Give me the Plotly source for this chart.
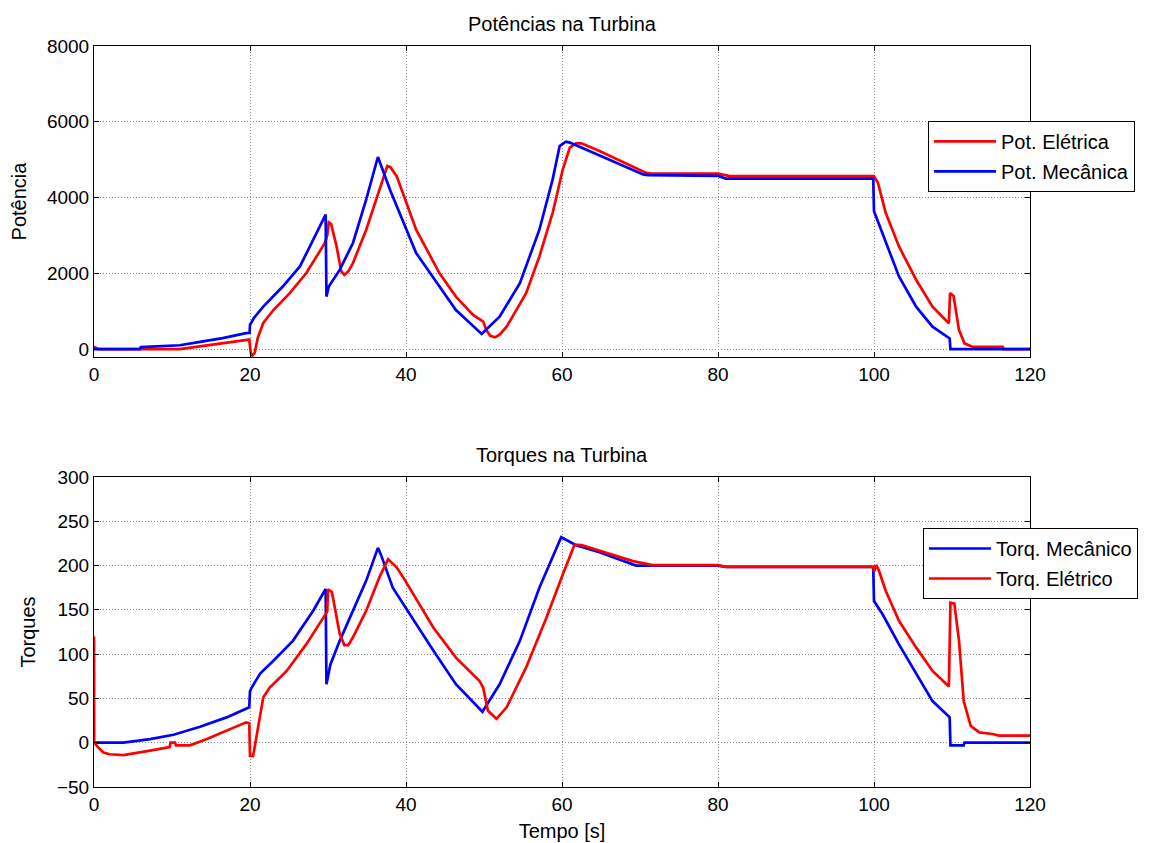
import plotly.graph_objects as go

# ---- Data ----
# Top: powers
t_pmec = [0, 5.9, 6.0, 11, 13.6, 16.5, 19.5, 19.95, 20.0, 20.5, 21.7, 24.2, 26.4, 29.7, 29.8,
          30.1, 31.5, 33.2, 34.9, 36.4, 38.0, 39.9, 41.3, 43.4, 46.4, 49.7, 52.0, 54.6, 57.1,
          58.8, 59.7, 60.5, 61.0, 63.5, 66.9, 70.4, 71.0, 80.0, 81.0, 99.9, 100.0, 101.1,
          103.2, 105.4, 107.5, 109.7, 109.8, 120]
p_mec = [0, 0, 50, 100, 190, 290, 420, 430, 640, 820, 1120, 1650, 2180, 3550, 1385,
         1650, 2090, 2800, 3950, 5070, 4180, 3240, 2535, 1915, 1030, 400, 855, 1740, 3150,
         4480, 5360, 5475, 5450, 5230, 4920, 4610, 4590, 4570, 4500, 4500, 3640, 3060,
         1915, 1120, 590, 280, 0, 0]

t_pele = [0, 0.5, 11, 12, 13.6, 15.5, 17.8, 19.5, 19.9, 20.1, 20.3, 20.6, 21.0, 21.7, 23.0,
          25.1, 27.2, 29.6, 29.9, 30.1, 30.4, 31.1, 31.7, 32.1, 32.6, 33.2, 34.9, 36.6, 37.6,
          38.0, 38.8, 39.9, 41.3, 44.3, 46.4, 48.6, 49.9, 50.3, 50.8, 51.4, 52.0, 52.9, 55.4,
          57.1, 58.8, 60.1, 61.0, 61.8, 62.5, 64.8, 69.1, 70.8, 71.5, 80.0, 81.5, 100.0,
          100.5, 101.5, 103.2, 105.4, 107.5, 109.6, 109.75, 110.2, 110.9, 111.6, 112.6,
          116.5, 116.6, 120]
p_ele = [60, 0, 0, 30, 60, 120, 190, 240, 250, -100, -170, -100, 300, 690, 1030,
         1475, 2000, 2800, 3000, 3345, 3300, 2710, 2050, 1960, 2050, 2270, 3150, 4210, 4830,
         4800, 4565, 3950, 3150, 2000, 1385, 900, 725, 500, 350, 310, 380, 590, 1475,
         2445, 3595, 4740, 5315, 5430, 5430, 5230, 4810, 4650, 4630, 4630, 4565, 4565,
         4390, 3595, 2710, 1830, 1120, 680, 1475, 1400, 500, 150, 60,
         60, 0, 0]

# Bottom: torques
t_tmec = [0, 3.75, 7.2, 10.2, 13.6, 17.0, 19.9, 20.0, 20.2, 21.3, 23.0, 25.5, 28.1, 29.7,
          29.8, 30.3, 31.5, 33.2, 34.9, 36.4, 36.8, 38.3, 39.9, 43.5, 46.4, 49.8, 52.0, 54.6,
          57.1, 59.9, 61.8, 64.8, 69.5, 80.0, 81.0, 99.9, 100.0, 101.1, 103.2, 105.4, 107.5,
          109.7, 109.8, 111.5, 111.6, 120]
tq_mec = [0, 0, 4, 9, 18, 28.6, 40, 58, 62, 78, 92.5, 115, 149, 173.5,
          66, 88, 115, 149, 183, 220, 212, 175, 153, 104, 66, 35, 66, 115,
          175, 232, 223, 215, 200, 200, 198.5, 198.5, 160, 145, 111, 77.5, 47,
          28.6, -3, -3, 0, 0]

t_tele = [0, 0.02, 0.5, 1.2, 2.0, 3.75, 7.2, 9.7, 9.8, 10.4, 10.5, 12.3, 14.4, 17.0, 19.5,
          19.9, 20.0, 20.4, 20.8, 21.7, 22.5, 24.7, 27.2, 29.6, 29.9, 30.0, 30.5, 31.5, 32.1,
          32.6, 33.2, 34.9, 36.6, 37.7, 38.8, 39.9, 43.5, 46.4, 49.4, 49.9, 50.5, 51.6, 52.9,
          55.4, 58.0, 60.1, 61.6, 62.5, 64.8, 69.1, 71.6, 80.0, 81.0, 99.9, 100.0, 100.3,
          100.6, 101.5, 103.2, 105.4, 107.5, 109.6, 109.8, 110.3, 110.9, 111.5, 112.4, 113.5,
          115.2, 116.0, 120]
tq_ele = [120, 0, -5, -11, -13, -14, -9, -5, 0, 0, -3, -3, 4, 13.5, 23,
          22, -15, -15, 6, 51, 62, 81, 111, 145, 148, 173, 170, 123, 110,
          110, 119, 149, 187, 207, 198, 183, 130, 96, 70, 62, 36, 27, 40,
          85, 141, 190, 223.5, 223, 216.7, 205, 200.5, 200.5, 198.5, 198.5, 193, 200.5,
          195, 171.5, 137.7, 107.6, 81, 63.5, 158, 157, 115, 47, 19, 11.6,
          9.8, 8, 8]

x_ticks = [0, 20, 40, 60, 80, 100, 120]
y1_ticks = [0, 2000, 4000, 6000, 8000]
y2_ticks = [-50, 0, 50, 100, 150, 200, 250, 300]

FONT = "Liberation Sans, Arial, sans-serif"
FS_TICK = 19
FS = 20

fig = go.Figure()

fig.add_trace(go.Scatter(x=t_pele, y=p_ele, mode="lines", name="Pot. Elétrica",
                         line=dict(color="#ff0000", width=2.7), legend="legend",
                         legendgroup="a", xaxis="x", yaxis="y"))
fig.add_trace(go.Scatter(x=t_pmec, y=p_mec, mode="lines", name="Pot. Mecânica",
                         line=dict(color="#0000ff", width=2.7), legend="legend",
                         legendgroup="b", xaxis="x", yaxis="y"))
fig.add_trace(go.Scatter(x=t_tmec, y=tq_mec, mode="lines", name="Torq. Mecânico",
                         line=dict(color="#0000ff", width=2.7), legend="legend2",
                         legendgroup="c", xaxis="x2", yaxis="y2"))
fig.add_trace(go.Scatter(x=t_tele, y=tq_ele, mode="lines", name="Torq. Elétrico",
                         line=dict(color="#ff0000", width=2.7), legend="legend2",
                         legendgroup="d", xaxis="x2", yaxis="y2"))

axis_common = dict(showline=True, linecolor="black", linewidth=1, mirror="ticks",
                   ticks="inside", ticklen=5, tickcolor="black", automargin=False,
                   showgrid=True, gridcolor="#8c8c8c", griddash="1px,2px", gridwidth=1,
                   zeroline=False, tickfont=dict(family=FONT, size=FS_TICK, color="black"))

TOP_DOM = [0.5803, 1.0]
BOT_DOM = [0.0, 0.4184]

# The page body has an 8px margin, so the figure is sized 8px smaller
fig.update_layout(
    width=1141, height=835,
    margin=dict(l=86, r=118, t=38, b=56),
    paper_bgcolor="white", plot_bgcolor="white",
    font=dict(family=FONT, size=FS, color="black"),
    showlegend=True,
    xaxis=dict(domain=[0, 1], anchor="y", range=[0, 120], tickvals=x_ticks, **axis_common),
    yaxis=dict(domain=TOP_DOM, anchor="x", range=[-210, 8000], tickvals=y1_ticks,
               title=dict(text="Potência", font=dict(family=FONT, size=FS, color="black"),
                          standoff=15), **axis_common),
    xaxis2=dict(domain=[0, 1], anchor="y2", range=[0, 120], tickvals=x_ticks,
                title=dict(text="Tempo [s]", font=dict(family=FONT, size=FS, color="black"),
                           standoff=10), **axis_common),
    yaxis2=dict(domain=BOT_DOM, anchor="x2", range=[-50, 300], tickvals=y2_ticks,
                title=dict(text="Torques", font=dict(family=FONT, size=FS, color="black"),
                           standoff=15), **axis_common),
    legend=dict(x=0.8901, y=0.8990, xanchor="left", yanchor="top",
                bgcolor="white", bordercolor="black", borderwidth=1,
                font=dict(family=FONT, size=FS, color="black"), tracegroupgap=1,
                itemwidth=62),
    legend2=dict(x=0.8847, y=0.3495, xanchor="left", yanchor="top",
                 bgcolor="white", bordercolor="black", borderwidth=1,
                 font=dict(family=FONT, size=FS, color="black"), tracegroupgap=1,
                 itemwidth=62),
    annotations=[
        dict(text="Potências na Turbina", x=0.5, y=TOP_DOM[1], xref="paper", yref="paper",
             xanchor="center", yanchor="bottom", yshift=9, showarrow=False,
             font=dict(family=FONT, size=FS, color="black")),
        dict(text="Torques na Turbina", x=0.5, y=BOT_DOM[1], xref="paper", yref="paper",
             xanchor="center", yanchor="bottom", yshift=9, showarrow=False,
             font=dict(family=FONT, size=FS, color="black")),
    ],
)

fig.write_html("out.html")
